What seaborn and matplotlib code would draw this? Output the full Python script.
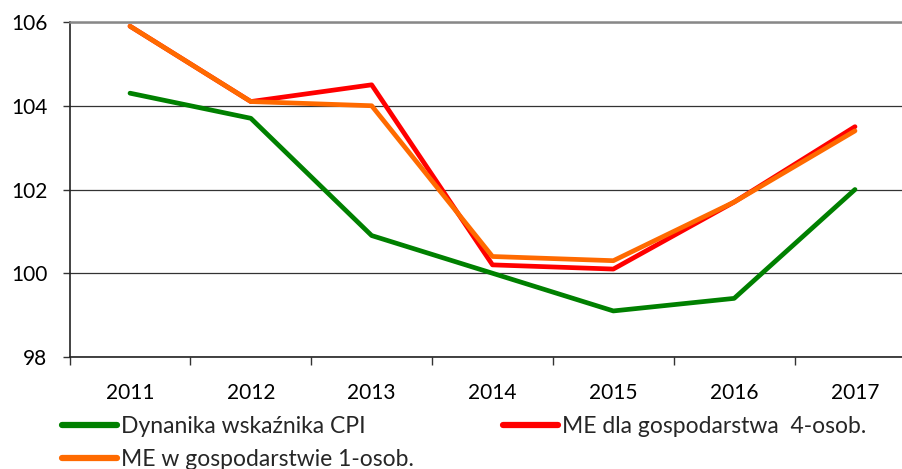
import pandas as pd
import matplotlib
matplotlib.use('Agg')
import matplotlib.pyplot as plt
import matplotlib.ticker as mticker
import seaborn as sns

# ── Data ────────────────────────────────────────────────────────────────
years = ['2011', '2012', '2013', '2014', '2015', '2016', '2017']
cpi = [104.3, 103.7, 100.9, 100.0, 99.1, 99.4, 102.0]
me_4os = [105.9, 104.1, 104.5, 100.2, 100.1, 101.7, 103.5]
me_1os = [105.9, 104.1, 104.0, 100.4, 100.3, 101.7, 103.4]

names = ['Dynanika wskaźnika CPI', 'ME dla gospodarstwa  4-osob.', 'ME w gospodarstwie 1-osob.']
COLORS = ['#008000', '#FF0000', '#FF6A00']

df = pd.concat([
    pd.DataFrame({'pos': range(len(years)), 'value': vals, 'series': name})
    for name, vals in zip(names, [cpi, me_4os, me_1os])
])

# ── Style ───────────────────────────────────────────────────────────────
sns.set_theme(style='white')
plt.rcParams['font.family'] = ['Lato', 'DejaVu Sans']

fig = plt.figure(figsize=(9.03, 4.69), dpi=100)
ax = fig.add_axes([69.6 / 903, 1 - 357 / 469, (915.4 - 69.6) / 903, 335 / 469])

sns.lineplot(data=df, x='pos', y='value', hue='series', hue_order=names,
             palette=COLORS, linewidth=3.4, ax=ax, legend=False, sort=False)

ax.set_xlim(-0.5, 6.5)
ax.set_ylim(98, 106)
ax.set_xlabel('')
ax.set_ylabel('')

# category labels centred, tick marks on boundaries
ax.set_xticks(range(len(years)))
ax.set_xticklabels(years)
ax.xaxis.set_minor_locator(mticker.FixedLocator([i - 0.5 for i in range(len(years) + 1)]))
ax.tick_params(axis='x', which='major', length=0, pad=19, labelsize=15, colors='black')
ax.tick_params(axis='x', which='minor', length=6, width=1, color='#333333', direction='out', bottom=True)
ax.yaxis.set_major_locator(mticker.MultipleLocator(2))
ax.tick_params(axis='y', length=5, width=1, color='#333333', pad=11, labelsize=15,
               direction='out', left=True, colors='black')

ax.yaxis.grid(True, color='#333333', linewidth=0.9)
ax.set_axisbelow(True)
for side in ['left', 'bottom']:
    ax.spines[side].set_color('#222222')
    ax.spines[side].set_linewidth(1.2)
ax.spines['top'].set_color('#888888')
ax.spines['top'].set_linewidth(1.8)
ax.spines['right'].set_visible(False)

# legend filled column-wise: CPI and 1-osob. in column 1, 4-osob. in column 2
order = [0, 2, 1]
handles = [plt.Line2D([], [], color=COLORS[i], linewidth=4.5) for i in order]
fig.legend(handles, [names[i] for i in order], ncol=2, loc='upper left',
           bbox_to_anchor=(62 / 903, 0.113), frameon=False, fontsize=16.5,
           handlelength=2.4, handletextpad=0.18, columnspacing=3.9,
           labelspacing=0.53, borderaxespad=0, borderpad=0)

plt.savefig('out.png', dpi=100)
plt.close()
